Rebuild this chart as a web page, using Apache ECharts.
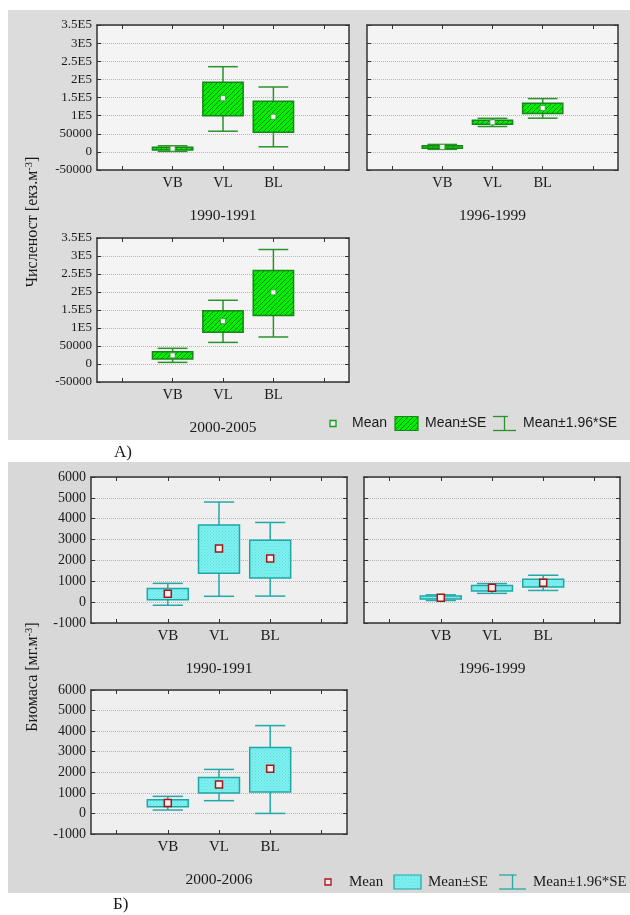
<!DOCTYPE html>
<html><head><meta charset="utf-8">
<script src="https://cdn.jsdelivr.net/npm/echarts@6/dist/echarts.min.js"></script>
<style>html,body{margin:0;padding:0;background:#fff}#c{width:630px;height:915px}</style>
</head><body><div id="c"></div>
<script>
// ---------- DATA ----------
const categories = ['', 'VB', 'VL', 'BL', ''];
const periodsA = ['1990-1991', '1996-1999', '2000-2005'];
const periodsB = ['1990-1991', '1996-1999', '2000-2006'];
const yTicksA = ['-50000', '0', '50000', '1E5', '1.5E5', '2E5', '2.5E5', '3E5', '3.5E5'];
const yTicksB = ['-1000', '0', '1000', '2000', '3000', '4000', '5000', '6000'];
// rows: [site, mean, mean-SE, mean+SE, mean-1.96*SE, mean+1.96*SE]
const abund1990 = [['VB', 9000, 5000, 13000, 1200, 16800], ['VL', 148000, 100000, 192000, 57000, 235000], ['BL', 97000, 54000, 140000, 14000, 179000]];
const abund1996 = [['VB', 13500, 10000, 17000, 7000, 20500], ['VL', 81500, 76000, 87000, 70000, 92500], ['BL', 121000, 106000, 134000, 93000, 147000]];
const abund2000 = [['VB', 24000, 14000, 34000, 4500, 43500], ['VL', 119000, 88000, 148000, 60000, 177000], ['BL', 199000, 135000, 260000, 75000, 318000]];
const bio1990 = [['VB', 400, 120, 650, -150, 900], ['VL', 2570, 1380, 3700, 280, 4800], ['BL', 2090, 1160, 2970, 290, 3820]];
const bio1996 = [['VB', 215, 150, 290, 80, 350], ['VL', 690, 530, 800, 420, 890], ['BL', 930, 730, 1100, 560, 1290]];
const bio2000 = [['VB', 505, 320, 660, 165, 830], ['VL', 1410, 990, 1750, 620, 2140], ['BL', 2170, 1040, 3210, 0, 4270]];
const yLabelA = 'Численост [екз.м';
const yLabelB = 'Биомаса [мг.м';
const legendTexts = ['Mean', 'Mean±SE', 'Mean±1.96*SE'];

// ---------- STYLE ----------
function hatch() {
  const c = document.createElement('canvas'); c.width = 5; c.height = 5;
  const g = c.getContext('2d');
  g.fillStyle = '#00ee00'; g.fillRect(0, 0, 5, 5);
  g.strokeStyle = '#127a12'; g.lineWidth = 0.9;
  g.beginPath();
  g.moveTo(-1, 6); g.lineTo(6, -1);
  g.moveTo(-1, 1); g.lineTo(1, -1);
  g.moveTo(4, 6); g.lineTo(6, 4);
  g.stroke();
  return c;
}
function dots() {
  const c = document.createElement('canvas'); c.width = 3; c.height = 3;
  const g = c.getContext('2d');
  g.fillStyle = '#7ff0f0'; g.fillRect(0, 0, 3, 3);
  g.fillStyle = '#5fdede'; g.fillRect(0, 0, 1, 1); g.fillRect(1.5, 1.5, 1, 1);
  return c;
}
const hatchImg = hatch(), dotImg = dots();
const styA = { fill: { image: hatchImg, repeat: 'repeat' }, stroke: '#1a861a', whisk: '#2a922a', mFill: '#ffffff', mStroke: '#3a9a3a', mSize: 5, mLw: 0.8 };
const styB = { fill: { image: dotImg, repeat: 'repeat' }, stroke: '#1fa6a6', whisk: '#25a8a8', mFill: '#fbeeee', mStroke: '#a01818', mSize: 7, mLw: 1.5 };
const SERIF = '"Liberation Serif","Times New Roman",serif';
const SANS = '"Liberation Sans",Arial,sans-serif';

const panels = [
  { data: abund1990, name: periodsA[0], ticks: yTicksA, rect: [97, 25, 252, 145], labels: true, sty: styA, bg: '#f4f4f4', tf: 13, cf: 14.5 },
  { data: abund1996, name: periodsA[1], ticks: yTicksA, rect: [367, 25, 251, 145], labels: false, sty: styA, bg: '#f4f4f4', tf: 13, cf: 14.5 },
  { data: abund2000, name: periodsA[2], ticks: yTicksA, rect: [97, 238, 252, 144], labels: true, sty: styA, bg: '#f4f4f4', tf: 13, cf: 14.5 },
  { data: bio1990, name: periodsB[0], ticks: yTicksB, rect: [91, 477, 256, 146], labels: true, sty: styB, bg: '#efefef', tf: 14, cf: 15 },
  { data: bio1996, name: periodsB[1], ticks: yTicksB, rect: [364, 477, 256, 146], labels: false, sty: styB, bg: '#efefef', tf: 14, cf: 15 },
  { data: bio2000, name: periodsB[2], ticks: yTicksB, rect: [91, 690, 256, 144], labels: true, sty: styB, bg: '#efefef', tf: 14, cf: 15 }
];

function makeRender(s) {
  return function (params, api) {
    const x = api.value(0);
    const p = api.coord([x, api.value(1)]);
    const cx = p[0];
    const band = api.size([1, 0])[0];
    const yv = i => api.coord([x, api.value(i)])[1];
    const seLo = yv(2), seHi = yv(3), ciLo = yv(4), ciHi = yv(5);
    const bw = band * 0.8, cw = band * 0.59;
    const ls = { stroke: s.whisk, lineWidth: 1.5 };
    return {
      type: 'group', children: [
        { type: 'line', shape: { x1: cx, y1: ciHi, x2: cx, y2: ciLo }, style: ls },
        { type: 'line', shape: { x1: cx - cw / 2, y1: ciHi, x2: cx + cw / 2, y2: ciHi }, style: ls },
        { type: 'line', shape: { x1: cx - cw / 2, y1: ciLo, x2: cx + cw / 2, y2: ciLo }, style: ls },
        { type: 'rect', shape: { x: cx - bw / 2, y: seHi, width: bw, height: Math.max(seLo - seHi, 1) }, style: { fill: s.fill, stroke: s.stroke, lineWidth: 1.5 } },
        { type: 'rect', shape: { x: cx - s.mSize / 2, y: p[1] - s.mSize / 2, width: s.mSize, height: s.mSize }, style: { fill: s.mFill, stroke: s.mStroke, lineWidth: s.mLw } }
      ]
    };
  };
}

const grid = [], xAxis = [], yAxis = [], series = [];
const axisCol = '#333';
panels.forEach((pn, i) => {
  const [l, t, w, h] = pn.rect;
  grid.push({ left: l, top: t, width: w, height: h, show: true, backgroundColor: pn.bg, borderWidth: 0 });
  const min = Number(pn.ticks[0]), max = Number(pn.ticks[pn.ticks.length - 1]);
  const interval = Number(pn.ticks[1]) - min;
  const tick = { show: true, inside: true, length: 4, alignWithLabel: true, interval: 0, lineStyle: { color: axisCol, width: 1 } };
  const line = { show: true, onZero: false, lineStyle: { color: axisCol, width: 1.5 } };
  xAxis.push({
    gridIndex: i, type: 'category', data: categories, boundaryGap: true, position: 'bottom',
    axisLine: line, axisTick: tick,
    axisLabel: { interval: 0, margin: 6, fontFamily: SERIF, fontSize: pn.cf, color: '#1a1a1a' },
    splitLine: { show: false },
    name: pn.name, nameLocation: 'middle', nameGap: 38,
    nameTextStyle: { fontFamily: SERIF, fontSize: 15.5, color: '#1a1a1a' }
  });
  xAxis.push({
    gridIndex: i, type: 'category', data: categories, boundaryGap: true, position: 'top',
    axisLine: line, axisTick: tick, axisLabel: { show: false }, splitLine: { show: false }
  });
  yAxis.push({
    gridIndex: i, type: 'value', min: min, max: max, interval: interval, position: 'left',
    axisLine: line, axisTick: { show: true, inside: true, length: 4, lineStyle: { color: axisCol } },
    axisLabel: {
      show: pn.labels, margin: 5, fontFamily: SERIF, fontSize: pn.tf, color: '#1a1a1a',
      formatter: v => pn.ticks[Math.round((v - min) / interval)]
    },
    splitLine: { show: true, lineStyle: { color: '#b4b4b4', type: 'dotted', width: 1 } }
  });
  yAxis.push({
    gridIndex: i, type: 'value', min: min, max: max, interval: interval, position: 'right',
    axisLine: line, axisTick: { show: true, inside: true, length: 4, lineStyle: { color: axisCol } },
    axisLabel: { show: false }, splitLine: { show: false }
  });
  series.push({
    type: 'custom', xAxisIndex: 2 * i, yAxisIndex: 2 * i,
    renderItem: makeRender(pn.sty),
    encode: { x: 0, y: [1, 2, 3, 4, 5] },
    data: pn.data.map(r => [categories.indexOf(r[0]), r[1], r[2], r[3], r[4], r[5]]),
    z: 5
  });
});

function yName(text, x, y) {
  return {
    type: 'text', x: x, y: y, rotation: Math.PI / 2, z: 10,
    style: {
      text: text + '{sup|-3}]', align: 'center', verticalAlign: 'middle',
      font: '16px ' + SERIF, fill: '#1a1a1a',
      rich: { sup: { fontSize: 10.5, fontFamily: SERIF, verticalAlign: 'top', padding: [0, 0, 8, 0], fill: '#1a1a1a' } }
    }
  };
}
function legend(y, s, font, xs, isA) {
  // xs: [marker, text1, box, text2, whisk, text3]
  const els = [];
  const ms = 6;
  els.push({ type: 'rect', shape: { x: xs[0] - ms / 2, y: y - ms / 2, width: ms, height: ms }, style: { fill: isA ? '#f0f0f0' : '#f6e6e6', stroke: isA ? '#1a9a1a' : '#a01818', lineWidth: 1.3 }, z: 10 });
  els.push({ type: 'text', x: xs[1], y: y, style: { text: legendTexts[0], font: font, fill: '#1a1a1a', verticalAlign: 'middle' }, z: 10 });
  els.push({ type: 'rect', shape: { x: xs[2], y: y - 7, width: xs[3] - xs[2] - 7, height: 14 }, style: { fill: s.fill, stroke: s.stroke, lineWidth: 1.2 }, z: 10 });
  els.push({ type: 'text', x: xs[3], y: y, style: { text: legendTexts[1], font: font, fill: '#1a1a1a', verticalAlign: 'middle' }, z: 10 });
  const wx = xs[4], ww = xs[5] - xs[4] - 7;
  const lsw = { stroke: s.whisk, lineWidth: 1.3 };
  els.push({ type: 'line', shape: { x1: wx, y1: y - 7, x2: wx + ww * 0.65, y2: y - 7 }, style: lsw, z: 10 });
  els.push({ type: 'line', shape: { x1: wx, y1: y + 7, x2: wx + ww, y2: y + 7 }, style: lsw, z: 10 });
  els.push({ type: 'line', shape: { x1: wx + ww * 0.5, y1: y - 7, x2: wx + ww * 0.5, y2: y + 7 }, style: lsw, z: 10 });
  els.push({ type: 'text', x: xs[5], y: y, style: { text: legendTexts[2], font: font, fill: '#1a1a1a', verticalAlign: 'middle' }, z: 10 });
  return els;
}

const graphic = [
  { type: 'rect', shape: { x: 8, y: 10, width: 622, height: 430 }, style: { fill: '#dcdcdc' }, z: -100, silent: true },
  { type: 'rect', shape: { x: 8, y: 462, width: 622, height: 431 }, style: { fill: '#d8d8d8' }, z: -100, silent: true },
  yName(yLabelA, 33, 222),
  yName(yLabelB, 33, 677),
  { type: 'text', x: 114, y: 453, style: { text: 'A)', font: '17px ' + SERIF, fill: '#1a1a1a', verticalAlign: 'middle' } },
  { type: 'text', x: 113, y: 905, style: { text: 'Б)', font: '17px ' + SERIF, fill: '#1a1a1a', verticalAlign: 'middle' } }
].concat(
  legend(423.5, styA, '14px ' + SANS, [333, 352, 395, 425, 493, 523], true),
  legend(882, styB, '15px ' + SERIF, [328, 349, 394, 428, 499, 533], false)
);

const chart = echarts.init(document.getElementById('c'), null, { renderer: 'canvas' });
chart.setOption({ animation: false, backgroundColor: '#ffffff', grid, xAxis, yAxis, series, graphic });
</script></body></html>
